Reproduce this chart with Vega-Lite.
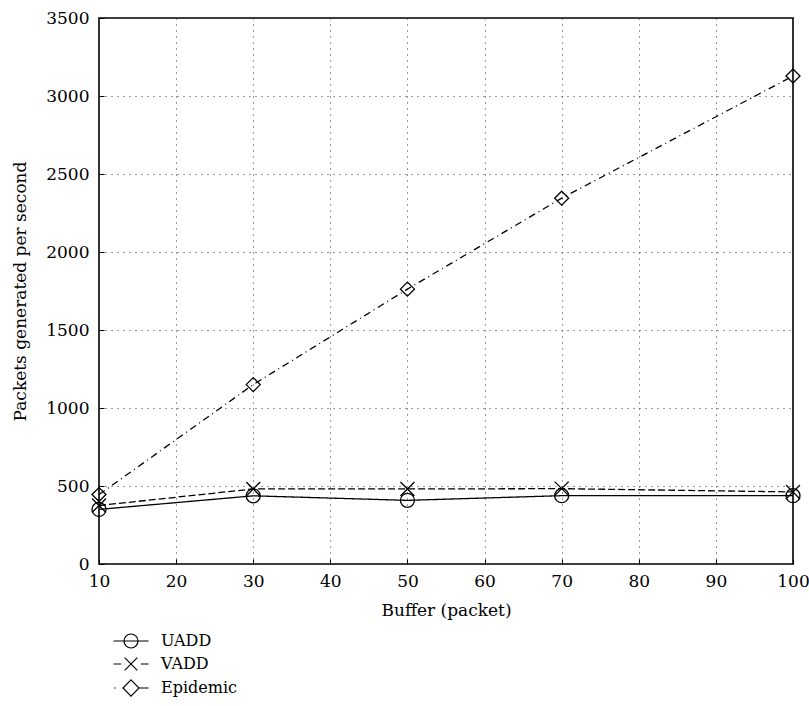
{
  "$schema": "https://vega.github.io/schema/vega-lite/v6.json",
  "autosize": "none",
  "width": 694,
  "height": 546,
  "padding": {"left": 99, "top": 18, "right": 16, "bottom": 142},
  "background": "white",
  "config": {
    "font": "DejaVu Serif",
    "view": {"stroke": "black", "strokeWidth": 1.6},
    "axis": {
      "domain": false,
      "grid": true,
      "gridColor": "#333",
      "gridDash": [1, 5],
      "gridWidth": 1,
      "ticks": true,
      "tickColor": "black",
      "tickSize": -5,
      "tickWidth": 1,
      "labelFont": "DejaVu Serif",
      "labelFontSize": 17,
      "labelColor": "black",
      "titleFont": "DejaVu Serif",
      "titleFontSize": 17,
      "titleFontWeight": "normal",
      "titleColor": "black"
    }
  },
  "data": {
    "values": [
      {"series": "UADD", "buffer": 10, "value": 350},
      {"series": "UADD", "buffer": 30, "value": 437},
      {"series": "UADD", "buffer": 50, "value": 408},
      {"series": "UADD", "buffer": 70, "value": 438},
      {"series": "UADD", "buffer": 100, "value": 438},
      {"series": "VADD", "buffer": 10, "value": 375},
      {"series": "VADD", "buffer": 30, "value": 481},
      {"series": "VADD", "buffer": 50, "value": 481},
      {"series": "VADD", "buffer": 70, "value": 483},
      {"series": "VADD", "buffer": 100, "value": 462},
      {"series": "Epidemic", "buffer": 10, "value": 445},
      {"series": "Epidemic", "buffer": 30, "value": 1150},
      {"series": "Epidemic", "buffer": 50, "value": 1762},
      {"series": "Epidemic", "buffer": 70, "value": 2345},
      {"series": "Epidemic", "buffer": 100, "value": 3128}
    ]
  },
  "encoding": {
    "x": {
      "field": "buffer",
      "type": "quantitative",
      "scale": {"domain": [10, 100], "nice": false, "zero": false},
      "axis": {
        "title": "Buffer (packet)",
        "format": "d",
        "values": [10, 20, 30, 40, 50, 60, 70, 80, 90, 100],
        "labelPadding": 14,
        "titlePadding": 13,
        "labelFlush": false
      }
    },
    "y": {
      "field": "value",
      "type": "quantitative",
      "scale": {"domain": [0, 3500], "nice": false},
      "axis": {
        "title": "Packets generated per second",
        "format": "d",
        "values": [0, 500, 1000, 1500, 2000, 2500, 3000, 3500],
        "labelPadding": 15,
        "titlePadding": 16,
        "labelFlush": false
      }
    }
  },
  "layer": [
    {
      "mark": {"type": "line", "color": "black", "strokeWidth": 1.3},
      "encoding": {
        "detail": {"field": "series"},
        "strokeDash": {
          "field": "series",
          "type": "nominal",
          "scale": {"domain": ["UADD", "VADD", "Epidemic"], "range": [[1, 0], [7, 3], [7, 4, 1, 4]]},
          "legend": null
        }
      }
    },
    {
      "mark": {"type": "point", "filled": false, "color": "black", "strokeWidth": 1.3, "opacity": 1},
      "encoding": {
        "shape": {
          "field": "series",
          "type": "nominal",
          "scale": {"domain": ["UADD", "VADD", "Epidemic"], "range": ["circle", "M-1,-1L1,1M-1,1L1,-1", "diamond"]},
          "legend": null
        },
        "size": {
          "field": "series",
          "type": "nominal",
          "scale": {"domain": ["UADD", "VADD", "Epidemic"], "range": [196, 196, 256]},
          "legend": null
        }
      }
    },
    {
      "mark": {"type": "point", "filled": false, "color": "black", "strokeWidth": 1.3, "opacity": 0},
      "encoding": {
        "shape": {
          "field": "series",
          "type": "nominal",
          "scale": {
            "domain": ["UADD", "VADD", "Epidemic"],
            "range": [
              "M-2.5,0L2.5,0M-1,0A1,1,0,1,1,1,0A1,1,0,1,1,-1,0",
              "M-2.5,0L-1.4,0M1.4,0L2.5,0M-0.9,-0.9L0.9,0.9M-0.9,0.9L0.9,-0.9",
              "M-2.4,0L-2.2,0M1.2,0L2.5,0M0,-1.15L1.15,0L0,1.15L-1.15,0Z"
            ]
          },
          "legend": {
            "title": null,
            "orient": "none",
            "legendX": 24,
            "legendY": 615,
            "direction": "vertical",
            "padding": 0,
            "symbolSize": 196,
            "symbolOpacity": 1,
            "symbolStrokeColor": "black",
            "symbolFillColor": "transparent",
            "symbolStrokeWidth": 1.2,
            "labelFont": "DejaVu Serif",
            "labelFontSize": 16,
            "labelColor": "black",
            "labelOffset": 22,
            "rowPadding": 4
          }
        }
      }
    }
  ],
  "resolve": {"scale": {"shape": "independent"}}
}
